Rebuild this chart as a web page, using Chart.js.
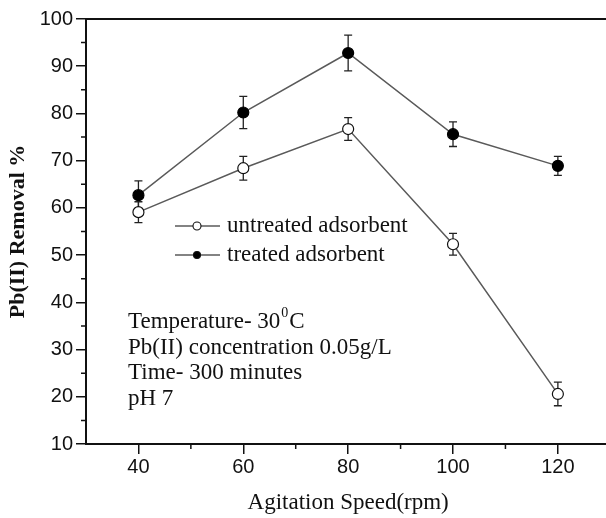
<!DOCTYPE html>
<html lang="en">
<head>
    <meta charset="UTF-8">
    <title>Pb(II) Removal vs Agitation Speed</title>
    <style>
        body {
            margin: 0;
            background: #fff;
            overflow: hidden;
        }
        #wrap {
            width: 617px;
            height: 518px;
        }
    </style>
</head>
<body>
    <div id="wrap">
        <canvas id="chart" width="617" height="518"></canvas>
    </div>

    <script src="https://cdn.jsdelivr.net/npm/chart.js"></script>
    <script>
        // data
        const speeds = [40, 60, 80, 100, 120];
        const untreated = [59.1, 68.4, 76.7, 52.3, 20.6];
        const untreatedErr = [2.2, 2.5, 2.4, 2.3, 2.5];
        const treated = [62.7, 80.2, 92.8, 75.6, 68.9];
        const treatedErr = [3.0, 3.4, 3.8, 2.6, 2.0];
        const xTicks = [40, 60, 80, 100, 120];
        const xMinorTicks = [50, 70, 90, 110];
        const yMinorTicks = [15, 25, 35, 45, 55, 65, 75, 85, 95];
        const notes = ['Temperature- 30', 'Pb(II) concentration 0.05g/L', 'Time- 300 minutes', 'pH 7'];

        const serif = '"Liberation Serif", "DejaVu Serif", serif';
        const sans = '"Liberation Sans", Arial, sans-serif';
        const lineGray = '#5a5a5a';

        function toPoints(xs, ys) {
            return xs.map((x, i) => ({ x: x, y: ys[i] }));
        }

        // error bars, drawn under the markers
        const errorBars = {
            id: 'errorBars',
            beforeDatasetsDraw(chart) {
                const ctx = chart.ctx;
                const xs = chart.scales.x, ys = chart.scales.y;
                const sets = [[untreated, untreatedErr], [treated, treatedErr]];
                ctx.save();
                ctx.strokeStyle = '#222';
                ctx.lineWidth = 1.3;
                sets.forEach(([vals, errs]) => {
                    vals.forEach((v, i) => {
                        const px = xs.getPixelForValue(speeds[i]);
                        const top = ys.getPixelForValue(v + errs[i]);
                        const bot = ys.getPixelForValue(v - errs[i]);
                        ctx.beginPath();
                        ctx.moveTo(px, top); ctx.lineTo(px, bot);
                        ctx.moveTo(px - 4, top); ctx.lineTo(px + 4, top);
                        ctx.moveTo(px - 4, bot); ctx.lineTo(px + 4, bot);
                        ctx.stroke();
                    });
                });
                ctx.restore();
            }
        };

        // frame, minor ticks, legend and notes
        const decorations = {
            id: 'decorations',
            afterDraw(chart) {
                const ctx = chart.ctx;
                const a = chart.chartArea;
                const xs = chart.scales.x, ys = chart.scales.y;
                ctx.save();
                ctx.strokeStyle = '#111';
                ctx.lineWidth = 2;
                ctx.beginPath();
                ctx.moveTo(a.left, a.top); ctx.lineTo(a.right, a.top);
                ctx.lineTo(a.right, a.bottom);
                ctx.stroke();

                ctx.lineWidth = 1.5;
                ctx.beginPath();
                xMinorTicks.forEach(v => {
                    const px = xs.getPixelForValue(v);
                    ctx.moveTo(px, a.bottom); ctx.lineTo(px, a.bottom + 5);
                });
                yMinorTicks.forEach(v => {
                    const py = ys.getPixelForValue(v);
                    ctx.moveTo(a.left, py); ctx.lineTo(a.left - 5, py);
                });
                ctx.stroke();

                // legend
                const lx = a.left + 89, ly = a.top + 207;
                ctx.font = '23px ' + serif;
                ctx.fillStyle = '#111';
                ctx.textBaseline = 'middle';
                ctx.textAlign = 'left';
                [['untreated adsorbent', '#fff'], ['treated adsorbent', '#000']].forEach(([label, fill], i) => {
                    const y = ly + i * 29;
                    ctx.strokeStyle = lineGray;
                    ctx.lineWidth = 1.4;
                    ctx.beginPath();
                    ctx.moveTo(lx, y); ctx.lineTo(lx + 45, y);
                    ctx.stroke();
                    ctx.beginPath();
                    ctx.arc(lx + 22, y, i === 0 ? 4 : 3.5, 0, Math.PI * 2);
                    ctx.fillStyle = fill;
                    ctx.fill();
                    ctx.strokeStyle = '#111';
                    ctx.lineWidth = 1.1;
                    ctx.stroke();
                    ctx.fillStyle = '#111';
                    ctx.fillText(label, lx + 52, y);
                });

                // experimental conditions
                const nx = a.left + 42, ny = a.top + 303;
                ctx.font = '23px ' + serif;
                notes.forEach((t, i) => {
                    ctx.fillText(t, nx, ny + i * 25.5);
                });
                const w = ctx.measureText(notes[0]).width;
                ctx.font = '14px ' + serif;
                ctx.fillText('0', nx + w + 1, ny - 9);
                const w0 = ctx.measureText('0').width;
                ctx.font = '23px ' + serif;
                ctx.fillText('C', nx + w + w0 + 2, ny);
                ctx.restore();
            }
        };

        new Chart(document.getElementById('chart'), {
            type: 'line',
            data: {
                datasets: [
                    {
                        label: 'untreated adsorbent',
                        data: toPoints(speeds, untreated),
                        borderColor: lineGray,
                        borderWidth: 1.5,
                        pointRadius: 5.5,
                        pointBackgroundColor: '#fff',
                        pointBorderColor: '#111',
                        pointBorderWidth: 1.2,
                        tension: 0
                    },
                    {
                        label: 'treated adsorbent',
                        data: toPoints(speeds, treated),
                        borderColor: lineGray,
                        borderWidth: 1.5,
                        pointRadius: 5.5,
                        pointBackgroundColor: '#000',
                        pointBorderColor: '#000',
                        pointBorderWidth: 1.2,
                        tension: 0
                    }
                ]
            },
            options: {
                responsive: false,
                animation: false,
                layout: { padding: { top: 19, right: 1, left: 0, bottom: 0 } },
                plugins: {
                    legend: { display: false },
                    tooltip: { enabled: false }
                },
                scales: {
                    x: {
                        type: 'linear',
                        min: 30,
                        max: 130,
                        afterBuildTicks: scale => {
                            scale.ticks = xTicks.map(v => ({ value: v }));
                        },
                        afterFit: scale => { scale.height = 74; },
                        border: { color: '#111', width: 2 },
                        grid: { drawOnChartArea: false, tickLength: 10, color: '#111', lineWidth: 1.5 },
                        ticks: { color: '#111', padding: 1, font: { family: sans, size: 20 } },
                        title: {
                            display: true,
                            text: 'Agitation Speed(rpm)',
                            color: '#111',
                            padding: { top: 0, bottom: 1 },
                            font: { family: serif, size: 23 }
                        }
                    },
                    y: {
                        min: 10,
                        max: 100,
                        ticks: { stepSize: 10, color: '#111', padding: 3, font: { family: sans, size: 20 } },
                        afterFit: scale => { scale.width = 86; },
                        border: { color: '#111', width: 2 },
                        grid: { drawOnChartArea: false, tickLength: 10, color: '#111', lineWidth: 1.5 },
                        title: {
                            display: true,
                            text: 'Pb(II) Removal %',
                            color: '#111',
                            padding: { top: 5, bottom: 0 },
                            font: { family: serif, size: 22, weight: 'bold' }
                        }
                    }
                }
            },
            plugins: [errorBars, decorations]
        });
    </script>
</body>
</html>
